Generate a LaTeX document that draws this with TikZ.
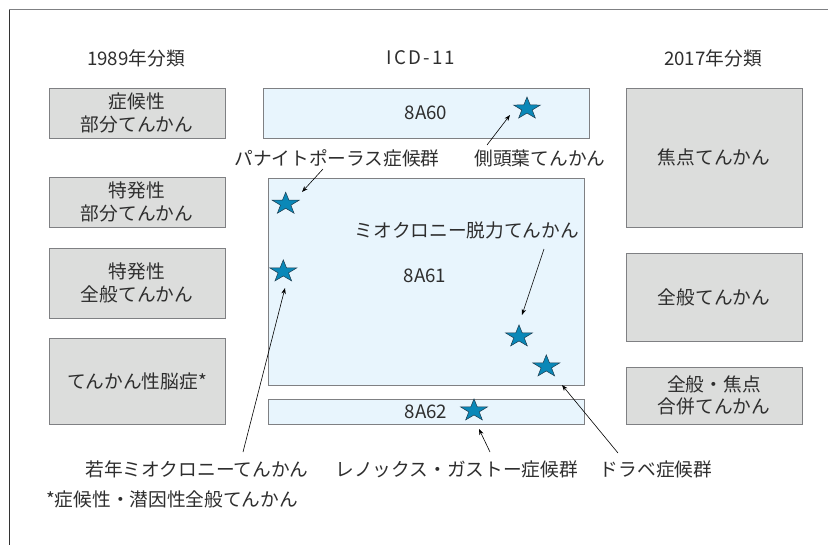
\documentclass[tikz,border=0pt]{standalone}
\usepackage{fontspec}
\setmainfont{Noto Sans CJK JP}
\newfontfamily\spacedfont[LetterSpace=12]{Noto Sans CJK JP}
\usetikzlibrary{arrows.meta}
\definecolor{boxgray}{HTML}{DCDDDC}
\definecolor{boxblue}{HTML}{E8F5FD}
\definecolor{edgegray}{HTML}{7F8083}
\definecolor{starblue}{HTML}{0A88B8}
\definecolor{stardark}{HTML}{1C3A4C}
\definecolor{txt}{HTML}{2E2E2E}
\begin{document}
\begin{tikzpicture}[x=1pt,y=-1pt,
  every node/.style={text=txt,font=\fontsize{18.7}{22.5}\selectfont},
  graybox/.style={draw=edgegray,line width=1pt,fill=boxgray,inner sep=0pt,align=center,minimum width=176pt},
  bluebox/.style={draw=edgegray,line width=1pt,fill=boxblue,inner sep=0pt,align=center},
  lbl/.style={inner sep=0pt,anchor=center},
  pointer/.style={draw=black,line width=0.6pt,-{Stealth[length=6pt,width=4.5pt]}},
  bstar/.pic={\draw[fill=starblue,draw=stardark,line width=0.5pt,xscale=1.22,yscale=-1]
     (90:11.6) -- (126:4.5) -- (162:11.6) -- (198:4.5) -- (234:11.6) -- (270:4.5)
     -- (306:11.6) -- (342:4.5) -- (18:11.6) -- (54:4.5) -- cycle;}
]
\useasboundingbox (0,0) rectangle (828,544);
% frame (only top and left edges visible)
\draw[edgegray,line width=1.2pt] (9.5,560) -- (9.5,9.5) -- (840,9.5);
\draw[black!80,line width=1pt] (9.5,560) -- (9.5,10);

% headers
\node[lbl] (h1) at (136,58) {1989年分類};
\node[lbl] (h2) at (421,58) {\spacedfont\fontsize{18.7}{22.5}\selectfont ICD-11};
\node[lbl] (h3) at (713,58) {2017年分類};

% left column
\node[graybox,minimum height=50pt] (l1) at (137,113) {症候性\\部分てんかん};
\node[graybox,minimum height=50pt] (l2) at (137,202) {特発性\\部分てんかん};
\node[graybox,minimum height=70pt] (l3) at (137,283) {特発性\\全般てんかん};
\node[graybox,minimum height=86pt] (l4) at (137,381) {てんかん性脳症*};

% center column
\node[bluebox,minimum width=326pt,minimum height=50pt] (c1) at (426,113) {8A60};
\node[bluebox,minimum width=316pt,minimum height=207pt] (c2) at (426,281.5) {};
\node[lbl] (c2t) at (425,276) {8A61};
\node[bluebox,minimum width=316pt,minimum height=25pt] (c3) at (426,412) {8A62};

% right column
\node[graybox,minimum height=139pt] (r1) at (714,157.5) {焦点てんかん};
\node[graybox,minimum height=88pt] (r2) at (714,297) {全般てんかん};
\node[graybox,minimum height=57pt] (r3) at (714,395.5) {全般・焦点\\合併てんかん};

% stars
\coordinate (s1) at (527,108.6);
\coordinate (s2) at (285.7,203.8);
\coordinate (s3) at (283.3,271.5);
\coordinate (s4) at (519,336.5);
\coordinate (s5) at (546.3,366.5);
\coordinate (s6) at (474,410.5);
\foreach \s in {s1,s2,s3,s4,s5,s6} \pic at (\s) {bstar};

% labels
\node[lbl] (t1) at (337,158) {パナイトポーラス症候群};
\node[lbl] (t2) at (540,158) {側頭葉てんかん};
\node[lbl] (t3) at (467,230) {ミオクロニー脱力てんかん};
\node[lbl] (t4) at (197,469) {若年ミオクロニーてんかん};
\node[lbl] (t5) at (457,469) {レノックス・ガストー症候群};
\node[lbl] (t6) at (656,469) {ドラベ症候群};
\node[lbl,anchor=west] (fn) at (46,499) {*症候性・潜因性全般てんかん};

% arrows
\coordinate (a1s) at (323,169); \coordinate (a1e) at (302,192);
\coordinate (a2s) at (487,145); \coordinate (a2e) at (510,115);
\coordinate (a3s) at (544,249); \coordinate (a3e) at (522,315);
\coordinate (a4s) at (243,452); \coordinate (a4e) at (285,288);
\coordinate (a5s) at (490,452); \coordinate (a5e) at (479,429);
\coordinate (a6s) at (618,453); \coordinate (a6e) at (562,385);
\draw[pointer] (a1s) -- (a1e);
\draw[pointer] (a2s) -- (a2e);
\draw[pointer] (a3s) -- (a3e);
\draw[pointer] (a4s) -- (a4e);
\draw[pointer] (a5s) -- (a5e);
\draw[pointer] (a6s) -- (a6e);
\end{tikzpicture}
\end{document}
